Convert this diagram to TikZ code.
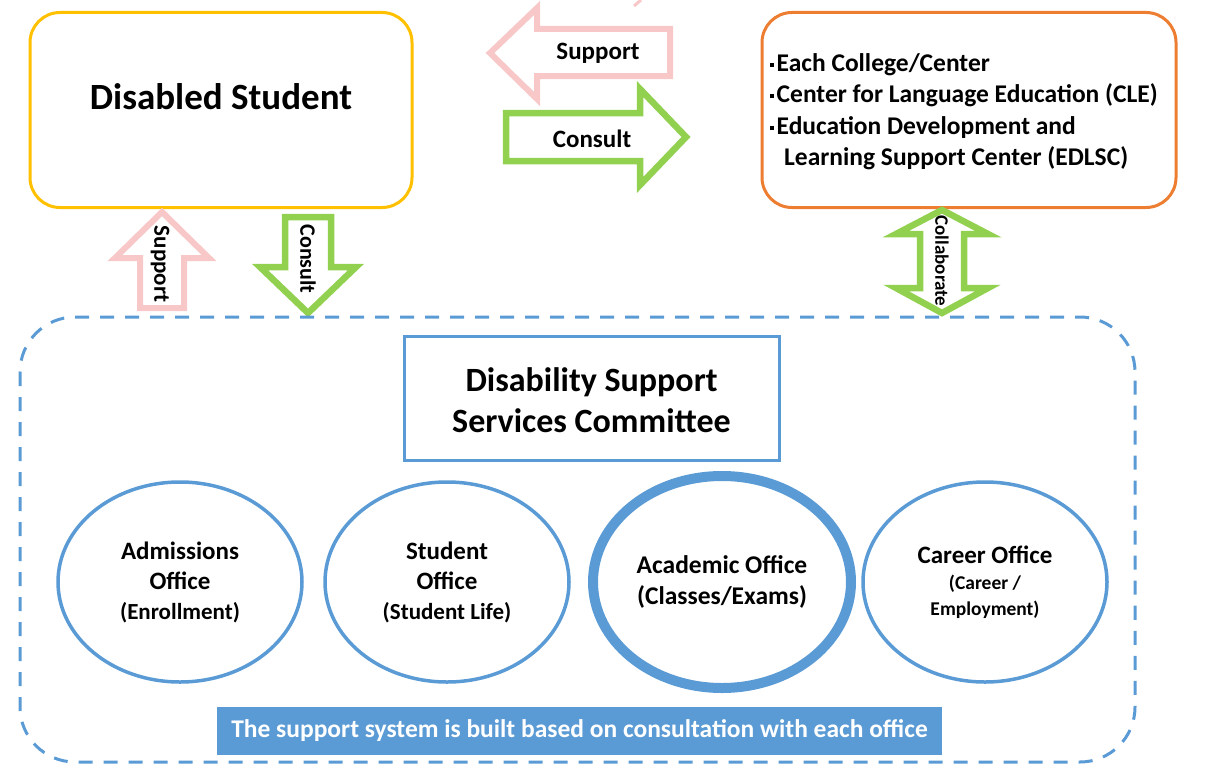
\documentclass[tikz,border=0pt]{standalone}
\usepackage{fontspec}
\setmainfont{Carlito}
\definecolor{cyellow}{HTML}{FFC000}
\definecolor{corange}{HTML}{ED7D31}
\definecolor{cblue}{HTML}{5B9BD5}
\definecolor{cgreen}{HTML}{92D050}
\definecolor{cpink}{RGB}{248,200,200}
\tikzset{
  pinkarrow/.style={draw=cpink, line width=6pt, line join=miter, fill=white},
  greenarrow/.style={draw=cgreen, line width=6.5pt, line join=miter, fill=white},
  office/.style={draw=cblue, line width=3.5pt, ellipse, inner sep=0pt, minimum width=244pt, minimum height=200pt, align=center, font=\bfseries\fontsize{25}{30}\selectfont},
  lbl/.style={font=\bfseries\fontsize{25}{28}\selectfont, inner sep=0pt},
  bul/.style={anchor=base west, inner sep=0pt, font=\bfseries\fontsize{25.5}{28}\selectfont},
}
\usetikzlibrary{shapes.geometric}
\newcommand{\sqbul}{\raisebox{0.36ex}{\rule{4pt}{4pt}}\hspace{2.5pt}}
\begin{document}
\begin{tikzpicture}[x=1pt,y=-1pt]
\useasboundingbox (0,0) rectangle (1212,776);
% top boxes
\node[draw=cyellow, line width=3pt, rounded corners=30pt, minimum width=382pt, minimum height=195pt] (student) at (221,110) {};
\node[font=\bfseries\fontsize{37}{42}\selectfont] (studentT) at (221,97) {Disabled Student};
\node[draw=corange, line width=3pt, rounded corners=30pt, minimum width=414pt, minimum height=195pt] (college) at (969,110) {};
\node[bul] (c1) at (770,71) {\sqbul Each College/Center};
\node[bul] (c2) at (770,102) {\sqbul Center for Language Education (CLE)};
\node[bul] (c3) at (770,134) {\sqbul Education Development and};
\node[bul] (c4) at (784,165) {Learning Support Center (EDLSC)};
% horizontal arrows
\draw[pinkarrow] (490,53) -- (537,8) -- (537,29) -- (670,29) -- (670,76) -- (537,76) -- (537,99) -- cycle;
\node[lbl] (hsup) at (598,53) {Support};
\draw[greenarrow] (506,113) -- (640,113) -- (640,89) -- (686,137) -- (640,185) -- (640,161) -- (506,161) -- cycle;
\node[lbl] (hcon) at (592,139) {Consult};
\draw[cpink, line width=3pt] (634,6) -- (641,0);
% vertical arrows
\draw[pinkarrow] (162,212) -- (209,258) -- (184,258) -- (184,308) -- (140,308) -- (140,258) -- (115,258) -- cycle;
\node[font=\bfseries\fontsize{23}{26}\selectfont, inner sep=0pt, rotate=-90] (vsup) at (160,264) {Support};
\draw[greenarrow] (285,217) -- (331,217) -- (331,267) -- (356,267) -- (308,313) -- (260,267) -- (285,267) -- cycle;
\node[font=\bfseries\fontsize{22}{26}\selectfont, inner sep=0pt, rotate=-90] (vcon) at (308,259) {Consult};
\draw[greenarrow] (942,210) -- (988,234) -- (964,234) -- (964,288) -- (988,288) -- (942,313) -- (896,288) -- (920,288) -- (920,234) -- (896,234) -- cycle;
\node[font=\bfseries\fontsize{19}{22}\selectfont, inner sep=0pt, rotate=-90] (collab) at (942,261) {Collaborate};
% dashed container
\draw[cblue, line width=3pt, dash pattern=on 14pt off 11pt, rounded corners=55pt] (20,317) rectangle (1135,762);
\node[draw=cblue, line width=3pt, minimum width=375pt, minimum height=124pt] (committee) at (591.5,398) {};
\node[font=\bfseries\fontsize{34}{41}\selectfont, align=center] (committeeT) at (591.5,400) {Disability Support\\Services Committee};
% offices
\node[office] (adm) at (180,582) {Admissions\\Office\\{\fontsize{23}{26}\selectfont(Enrollment)}};
\node[office] (stu) at (447,582) {Student\\Office\\{\fontsize{23}{26}\selectfont(Student Life)}};
\node[office, line width=10pt, minimum width=258pt, minimum height=212pt, font=\bfseries\fontsize{25.5}{31}\selectfont] (aca) at (722,582) {Academic Office\\(Classes/Exams)};
\node[office] (car) at (985,582) {Career Office\\[-4pt]{\fontsize{19.5}{24}\selectfont(Career /}\\[-4pt]{\fontsize{19.5}{24}\selectfont Employment)}};
% banner
\node[fill=cblue, minimum width=725pt, minimum height=48pt, text=white, font=\bfseries\fontsize{25.5}{28}\selectfont] (banner) at (579.5,731) {The support system is built based on consultation with each office};
\end{tikzpicture}
\end{document}
